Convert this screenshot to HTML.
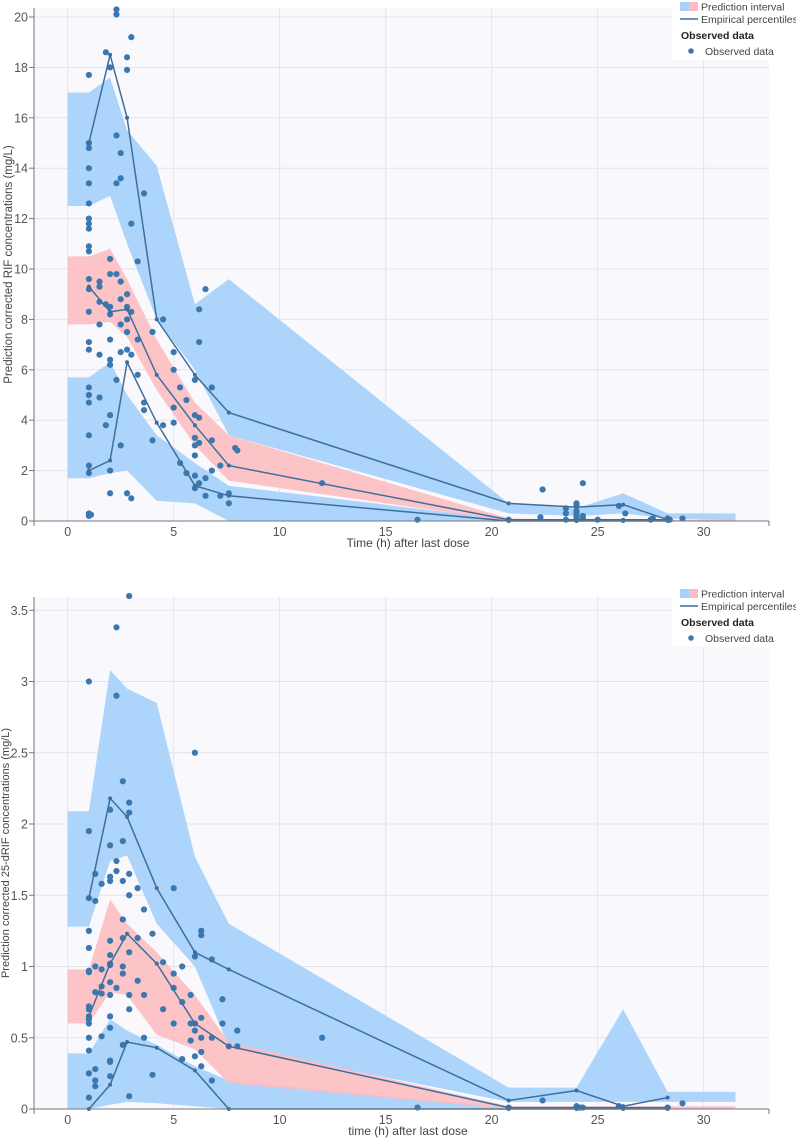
<!DOCTYPE html>
<html><head><meta charset="utf-8">
<style>
html,body{margin:0;padding:0;background:#fff;}
svg{display:block;font-family:"Liberation Sans",sans-serif;}
</style></head>
<body>
<svg id="chart" width="796" height="1138" viewBox="0 0 796 1138" xmlns="http://www.w3.org/2000/svg"></svg>
<script>
// ---------- shared bin positions ----------
const binX = [0, 1.0, 2.0, 2.8, 4.2, 6.0, 7.6, 20.8, 24.0, 26.2, 28.3, 31.5];
const pctX = [1.0, 2.0, 2.8, 4.2, 6.0, 7.6, 20.8, 24.0, 26.2, 28.3];
const xTicks = [0, 5, 10, 15, 20, 25, 30];

// ---------- RIF (top) ----------
const rifUpHi = [17.0, 17.0, 17.6, 15.5, 14.1, 8.6, 9.6, 0.7, 0.5, 1.1, 0.3, 0.3];
const rifUpLo = [12.5, 12.5, 12.9, 11.0, 8.0, 6.0, 3.4, 0.3, 0.2, 0.3, 0.1, 0.02];
const rifMidHi = [10.5, 10.5, 10.8, 9.6, 7.2, 4.7, 3.4, 0.1, 0.05, 0.05, 0.05, 0.05];
const rifMidLo = [7.8, 7.8, 7.9, 7.3, 5.2, 3.0, 1.6, 0.0, 0.0, 0.0, 0.0, 0.0];
const rifLowHi = [5.7, 5.7, 6.3, 5.0, 3.4, 2.3, 1.4, 0.05, 0.03, 0.03, 0.02, 0.02];
const rifLowLo = [1.7, 1.7, 1.9, 2.0, 0.8, 0.7, 0.0, 0.0, 0.0, 0.0, 0.0, 0.0];
const rifP95 = [15.0, 18.5, 16.0, 8.0, 5.8, 4.3, 0.7, 0.55, 0.65, 0.05];
const rifP50 = [9.3, 8.3, 8.4, 5.8, 3.8, 2.2, 0.05, 0.05, 0.05, 0.05];
const rifP05 = [2.0, 2.4, 6.3, 3.9, 1.4, 1.0, 0.0, 0.0, 0.0, 0.0];
const rifObsX = [1,1,1,1,1,1,1,1,1,1,1,1,1,1,1,1,1,1,1,1,1,1,1,1,1.1,
 1.5,1.5,1.5,1.5,1.5,1.5,1.8,1.8,1.8,2,2,2,2,2,2,2,2,2,2,2,
 2.3,2.3,2.3,2.3,2.3,2.3,2.5,2.5,2.5,2.5,2.5,2.5,2.5,2.8,2.8,2.8,2.8,2.8,2.8,2.8,2.8,
 3,3,3,3,3,3.3,3.3,3.3,3.6,3.6,3.6,4,4,4.5,4.5,5,5,5,5,5.3,5.3,5.6,5.6,
 6,6,6,6,6,6,6,6.2,6.2,6.2,6.2,6.2,6.5,6.5,6.5,6.8,6.8,6.8,7.2,7.2,7.6,7.6,7.9,8.0,
 12,16.5,20.8,22.3,22.4,23.5,23.5,23.5,24,24,24,24,24,24,24,24.3,24.3,24.3,25,26,26.3,27.5,27.6,28.3,28.4,29];
const rifObsY = [17.7,15,14.8,14,13.4,12.6,12,11.8,11.6,10.9,10.7,9.6,9.2,8.3,7.1,6.8,5.3,5.0,4.7,3.4,2.2,1.9,0.3,0.2,0.25,
 9.5,9.3,8.7,7.8,6.6,4.9,18.6,8.6,3.8,18.0,10.4,9.8,8.5,8.2,7.2,6.4,6.2,4.2,2.0,1.1,
 20.3,20.1,15.3,13.4,9.8,5.6,14.6,13.6,9.5,8.8,7.8,6.7,3.0,18.4,17.9,9.0,8.5,8.0,7.5,6.8,1.1,
 19.2,11.8,8.3,6.6,0.9,10.3,7.2,5.8,13.0,4.7,4.4,3.2,7.5,8.0,3.8,6.7,6.0,4.5,3.9,5.3,2.3,1.9,4.8,
 5.6,4.2,3.3,3.0,2.6,1.8,1.3,8.4,7.1,4.1,3.1,1.5,9.2,1.7,1.0,5.3,3.2,2.0,2.2,1.0,0.7,1.1,2.9,2.8,
 1.5,0.05,0.05,0.15,1.25,0.3,0.5,0.05,0.6,0.7,0.2,0.1,0.05,0.3,0.4,1.5,0.2,0.1,0.05,0.6,0.3,0.05,0.1,0.1,0.05,0.1];
const rifYTicks = [0, 2, 4, 6, 8, 10, 12, 14, 16, 18, 20];

// ---------- 25-dRIF (bottom) ----------
const drUpHi = [2.09, 2.09, 3.08, 2.95, 2.85, 1.77, 1.3, 0.15, 0.15, 0.7, 0.12, 0.12];
const drUpLo = [1.28, 1.28, 1.74, 1.78, 1.3, 1.0, 0.44, 0.05, 0.05, 0.05, 0.05, 0.05];
const drMidHi = [0.98, 0.98, 1.47, 1.3, 1.1, 0.8, 0.47, 0.02, 0.02, 0.02, 0.02, 0.02];
const drMidLo = [0.6, 0.6, 0.82, 0.8, 0.52, 0.42, 0.18, 0.0, 0.0, 0.0, 0.0, 0.0];
const drLowHi = [0.39, 0.39, 0.63, 0.55, 0.45, 0.3, 0.2, 0.01, 0.01, 0.01, 0.01, 0.01];
const drLowLo = [0.0, 0.0, 0.03, 0.05, 0.04, 0.02, 0.0, 0.0, 0.0, 0.0, 0.0, 0.0];
const drP95 = [1.48, 2.18, 2.05, 1.55, 1.1, 0.98, 0.06, 0.13, 0.02, 0.08];
const drP50 = [0.65, 1.02, 1.23, 1.02, 0.6, 0.44, 0.01, 0.01, 0.01, 0.01];
const drP05 = [0.0, 0.17, 0.47, 0.43, 0.27, 0.0, 0.0, 0.0, 0.0, 0.0];
const drObsX = [1,1,1,1,1,1,1,1,1,1,1,1,1,1,1,1,
 1.3,1.3,1.3,1.3,1.3,1.3,1.3,1.6,1.6,1.6,1.6,1.6,
 2,2,2,2,2,2,2,2,2,2,2,2,2,2,2,2.3,2.3,2.3,2.3,2.3,
 2.6,2.6,2.6,2.6,2.6,2.6,2.6,2.6,2.9,2.9,2.9,2.9,2.9,2.9,2.9,2.9,2.9,
 3.3,3.3,3.3,3.6,3.6,3.6,4,4,4.5,4.5,5,5,5,5,5.4,5.4,5.4,5.8,5.8,5.8,
 6,6,6,6,6,6.3,6.3,6.3,6.3,6.3,6.3,6.8,6.8,6.8,7.3,7.3,7.6,8,8,
 12,16.5,20.8,22.4,24,24.1,24.2,24.3,26,28.3,29];
const drObsY = [3.0,1.95,1.48,1.25,1.13,0.96,0.97,0.72,0.7,0.65,0.63,0.6,0.5,0.41,0.25,0.08,
 1.65,1.46,1.0,0.82,0.28,0.2,0.16,1.58,0.98,0.86,0.81,0.51,
 2.1,1.85,1.6,1.63,1.18,1.08,1.02,1.01,0.89,0.8,0.65,0.57,0.34,0.33,0.23,3.38,2.9,1.74,1.67,0.85,
 2.3,1.88,1.6,1.33,1.2,1.0,0.95,0.45,3.6,2.15,2.08,1.65,1.5,1.1,0.8,0.7,0.09,
 1.55,1.2,0.9,1.4,0.8,0.5,1.23,0.24,1.03,0.7,1.55,0.95,0.85,0.6,1.0,0.75,0.35,0.8,0.6,0.48,
 2.5,1.07,0.6,0.55,0.37,1.25,1.22,0.64,0.5,0.4,0.3,1.05,0.5,0.2,0.77,0.6,0.44,0.55,0.44,
 0.5,0.01,0.01,0.06,0.02,0.01,0.01,0.01,0.02,0.01,0.04];
const drYTicks = [0, 0.5, 1, 1.5, 2, 2.5, 3, 3.5];

const NS = "http://www.w3.org/2000/svg";
const svg = document.getElementById('chart');
function mk(tag, attrs, parent) {
  const e = document.createElementNS(NS, tag);
  for (const k in attrs) e.setAttribute(k, attrs[k]);
  (parent || svg).appendChild(e);
  return e;
}

function panel(cfg) {
  const g = mk('g', {});
  
  
  const L = 34, R = 769, T = cfg.top, B = cfg.bottom;
  const x0 = 67.7, xs = 21.2;
  const X = v => x0 + v * xs;
  const Y = v => B - v * cfg.ys;
  const bg = mk('rect', {x: L, y: T, width: R - L, height: B - T, fill: '#f9f9fd'}, g);
  
  
  cfg.yTicks.forEach(t => {
    const gl = mk('line', {x1: L, x2: R, y1: Y(t), y2: Y(t), stroke: '#e3e3ea', 'stroke-width': 1}, g);
    
    
  });
  xTicks.forEach(t => {
    const gl = mk('line', {x1: X(t), x2: X(t), y1: T, y2: B, stroke: '#e3e3ea', 'stroke-width': 1}, g);
    
    
  });
  function band(hi, lo, fill, op, name) {
    let d = '';
    binX.forEach((x, i) => { d += (i ? 'L' : 'M') + X(x).toFixed(1) + ',' + Y(hi[i]).toFixed(1); });
    for (let i = binX.length - 1; i >= 0; i--) d += 'L' + X(binX[i]).toFixed(1) + ',' + Y(lo[i]).toFixed(1);
    const p = mk('path', {d: d + 'Z', fill: fill, 'fill-opacity': op}, g);
    
    
  }
  band(cfg.upHi, cfg.upLo, '#a9d2fb', 0.95, 'band-upper-pi');
  band(cfg.lowHi, cfg.lowLo, '#a9d2fb', 0.95, 'band-lower-pi');
  band(cfg.midHi, cfg.midLo, '#fdbcc0', 0.88, 'band-median-pi');
  cfg.obsX.forEach((x, i) => {
    const c = mk('circle', {cx: X(x), cy: Y(cfg.obsY[i]), r: 3.1, fill: '#3b78b0'}, g);
    
    
  });
  [[cfg.p95, 'line-p95'], [cfg.p50, 'line-p50'], [cfg.p05, 'line-p05']].forEach(([arr, nm]) => {
    const pts = pctX.map((x, i) => X(x).toFixed(1) + ',' + Y(arr[i]).toFixed(1)).join(' ');
    const pl = mk('polyline', {points: pts, fill: 'none', stroke: '#3d6f9e', 'stroke-width': 1.5}, g);
    
    
    pctX.forEach((x, i) => {
      const c = mk('circle', {cx: X(x), cy: Y(arr[i]), r: 2, fill: '#3d6f9e'}, g);
      
      
    });
  });
  const ya = mk('line', {x1: L, x2: L, y1: T, y2: B + 5, stroke: '#777', 'stroke-width': 1}, g);
  
  
  const xa = mk('line', {x1: L - 5, x2: R, y1: B, y2: B, stroke: '#777', 'stroke-width': 1}, g);
  
  
  const xr = mk('line', {x1: R, x2: R, y1: B, y2: B + 5, stroke: '#777', 'stroke-width': 1}, g);
  
  
  cfg.yTicks.forEach(t => {
    const tk = mk('line', {x1: L - 5, x2: L, y1: Y(t), y2: Y(t), stroke: '#777'}, g);
    
    
    const tl = mk('text', {x: L - 6, y: Y(t) + 4.5, 'text-anchor': 'end', 'font-size': 12.5, fill: '#555'}, g);
    tl.textContent = String(t);
    
    
  });
  xTicks.forEach(t => {
    const tl = mk('text', {x: X(t), y: B + 15, 'text-anchor': 'middle', 'font-size': 12.5, fill: '#555'}, g);
    tl.textContent = String(t);
    
    
  });
  const xt = mk('text', {x: 408, y: B + 26, 'text-anchor': 'middle', 'font-size': 12, fill: '#444'}, g);
  xt.textContent = cfg.xTitle;
  
  
  const cy = (T + B) / 2;
  const yt = mk('text', {x: 0, y: 0, transform: 'translate(' + cfg.yTitleX + ',' + cy + ') rotate(-90)', 'text-anchor': 'middle', 'font-size': cfg.yTitleSize, fill: '#444'}, g);
  yt.textContent = cfg.yTitle;
  
  
  const lg = mk('g', {transform: 'translate(0,' + cfg.legY + ')'}, g);
  
  
  mk('rect', {x: 672, y: 0, width: 124, height: 60, fill: '#ffffff'}, lg);
  mk('rect', {x: 680, y: 2, width: 9, height: 9, fill: '#a9d2fb'}, lg);
  mk('rect', {x: 689, y: 2, width: 9, height: 9, fill: '#fdbcc0'}, lg);
  const t1 = mk('text', {x: 701, y: 10.5, 'font-size': 10.5, fill: '#444'}, lg);
  t1.textContent = 'Prediction interval';
  
  
  mk('line', {x1: 680, x2: 698, y1: 19, y2: 19, stroke: '#3d6f9e', 'stroke-width': 1.5}, lg);
  const t2 = mk('text', {x: 701, y: 23, 'font-size': 10.5, fill: '#444'}, lg);
  t2.textContent = 'Empirical percentiles';
  
  
  const t3 = mk('text', {x: 681, y: 39, 'font-size': 10.5, 'font-weight': 'bold', fill: '#222'}, lg);
  t3.textContent = 'Observed data';
  
  
  mk('circle', {cx: 691, cy: 51, r: 2.8, fill: '#3b78b0'}, lg);
  const t4 = mk('text', {x: 705, y: 55, 'font-size': 10.5, fill: '#444'}, lg);
  t4.textContent = 'Observed data';
  
  
}

panel({name: 'rif-vpc-chart', top: 8, bottom: 521, ys: 25.2, yTicks: rifYTicks,
  upHi: rifUpHi, upLo: rifUpLo, midHi: rifMidHi, midLo: rifMidLo, lowHi: rifLowHi, lowLo: rifLowLo,
  p95: rifP95, p50: rifP50, p05: rifP05, obsX: rifObsX, obsY: rifObsY, yTitleX: 12, yTitleSize: 11.5,
  xTitle: 'Time (h) after last dose', yTitle: 'Prediction corrected RIF concentrations (mg/L)', legY: 0});
panel({name: 'drif-vpc-chart', top: 597, bottom: 1109, ys: 142.5, yTicks: drYTicks,
  upHi: drUpHi, upLo: drUpLo, midHi: drMidHi, midLo: drMidLo, lowHi: drLowHi, lowLo: drLowLo,
  p95: drP95, p50: drP50, p05: drP05, obsX: drObsX, obsY: drObsY, yTitleX: 9, yTitleSize: 11,
  xTitle: 'time (h) after last dose', yTitle: 'Prediction corrected 25-dRIF concentrations (mg/L)', legY: 587});
</script>
</body></html>
